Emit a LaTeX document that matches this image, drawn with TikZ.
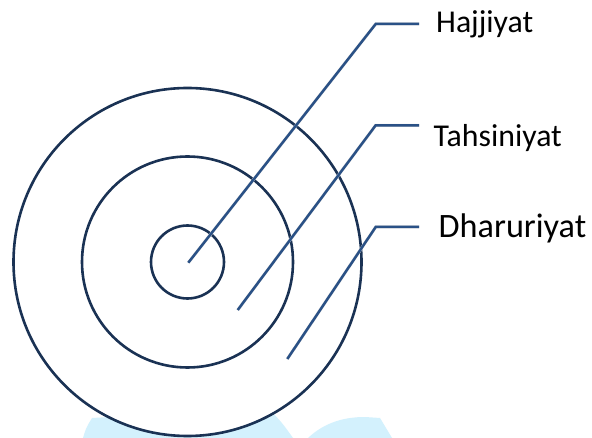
\documentclass[tikz,border=0pt]{standalone}
\usepackage{fontspec}
\setmainfont{Carlito}
\definecolor{ringcol}{HTML}{1A3254}
\definecolor{linecol}{HTML}{2A5186}
\definecolor{wmblue}{HTML}{D3F1FD}
\tikzset{
  ring/.style={circle, draw=ringcol, line width=2.6pt, fill=white, inner sep=0pt},
  leader/.style={draw=linecol, line width=2.5pt},
  leadershadow/.style={draw=black!15, line width=3pt},
  lbl/.style={anchor=base west, inner sep=0pt, text=black},
  wm/.style={fill=wmblue, draw=none}
}
\begin{document}
\begin{tikzpicture}[x=1pt,y=-1pt]
\useasboundingbox (0,0) rectangle (592,438);
\fill[white] (0,0) rectangle (592,438);
\path[wm] (83,438) .. controls (86,428) .. (92,418) -- (110,417) -- (110,395) -- (270,395) -- (273,413) .. controls (283,424) .. (293,438) -- cycle;
\path[wm] (308,438) .. controls (325,422) and (345,417) .. (365,417) -- (380,418) -- (392,438) -- cycle;
\coordinate (c) at (187.5,262);
\node[ring, minimum size=348pt] (outer) at (c) {};
\node[ring, minimum size=211pt] (middle) at (c) {};
\node[ring, minimum size=73pt] (inner) at (c) {};
\coordinate (h0) at (188.3,262.7);
\coordinate (h1) at (375.7,24);
\coordinate (h2) at (419,24);
\coordinate (t0) at (237.7,310);
\coordinate (t1) at (375.7,125.3);
\coordinate (t2) at (419,125.3);
\coordinate (d0) at (287.3,359);
\coordinate (d1) at (375.7,227);
\coordinate (d2) at (419,227);
\begin{scope}[shift={(1.8,2.4)}]
\draw[leadershadow] (h0) -- (h1) -- (h2);
\draw[leadershadow] (t0) -- (t1) -- (t2);
\draw[leadershadow] (d0) -- (d1) -- (d2);
\end{scope}
\draw[leader] (h0) -- (h1) -- (h2);
\draw[leader] (t0) -- (t1) -- (t2);
\draw[leader] (d0) -- (d1) -- (d2);
\node[lbl, font=\fontsize{31.8}{38}\selectfont] (hl) at (436,33) {Hajjiyat};
\node[lbl, font=\fontsize{31.8}{38}\selectfont] (tl) at (433.5,146.7) {Tahsiniyat};
\node[lbl, font=\fontsize{34.2}{40}\selectfont] (dl) at (438.5,237.3) {Dharuriyat};
\end{tikzpicture}
\end{document}
